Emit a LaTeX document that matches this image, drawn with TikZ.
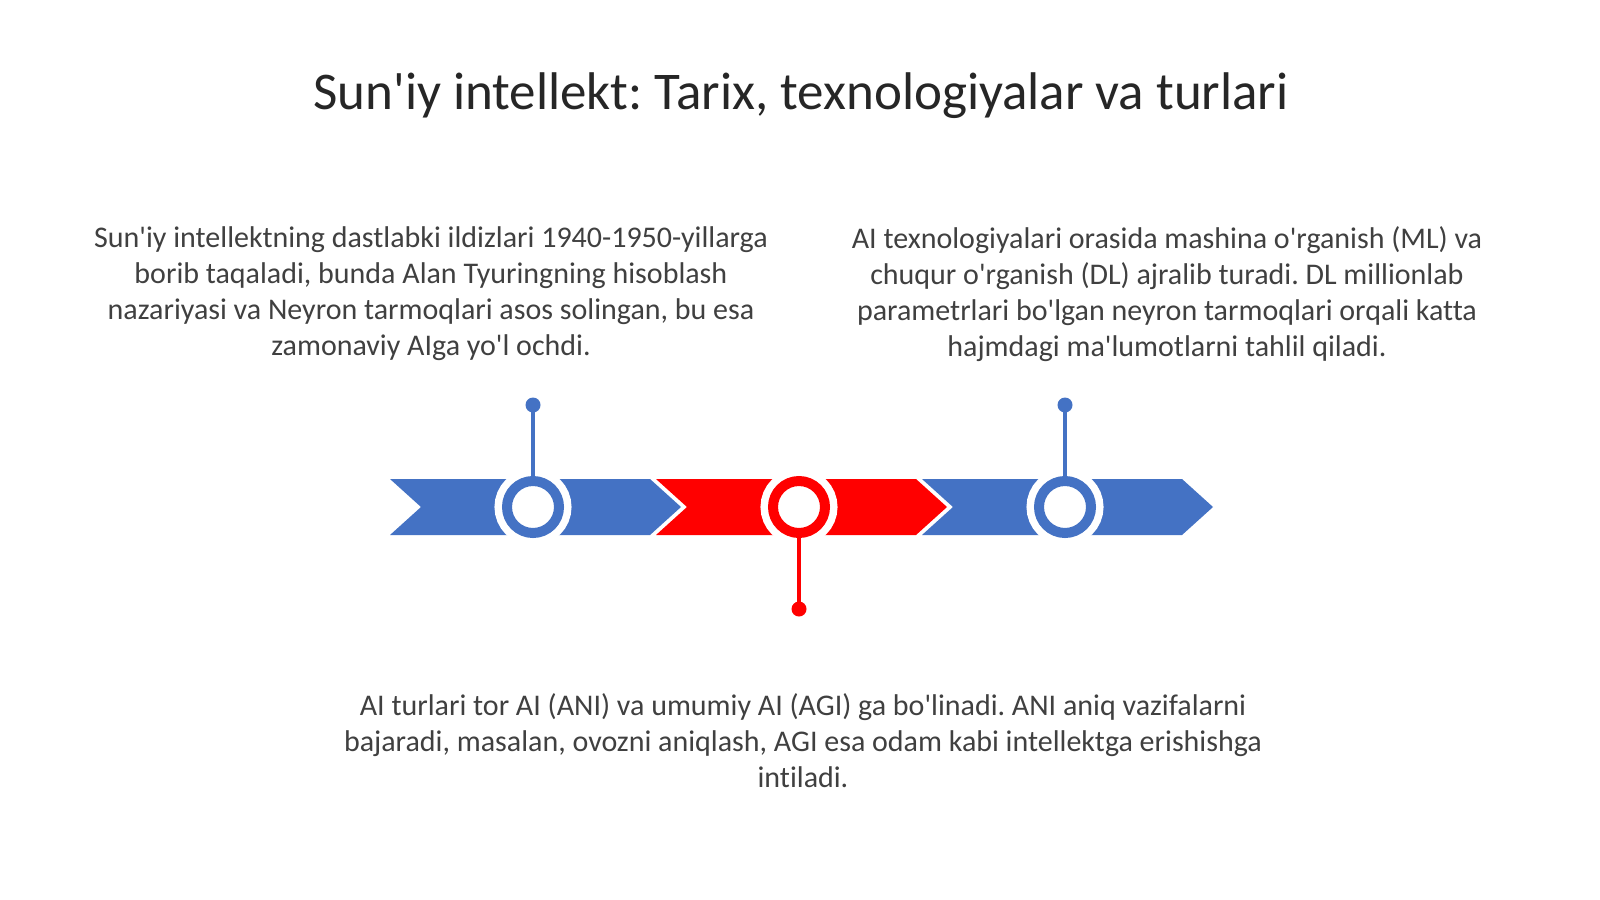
\documentclass[tikz,border=0pt]{standalone}
\usepackage{fontspec}
\setmainfont{Carlito}
\newfontfamily\slidefont{Carlito}[Ligatures=CommonOff]
\definecolor{tlblue}{HTML}{4472C4}
\definecolor{tlred}{HTML}{FF0000}
\definecolor{txtgray}{HTML}{404040}
\definecolor{ttlgray}{HTML}{262626}
\frenchspacing

\begin{document}
\begin{tikzpicture}[x=1pt, y=-1pt, every node/.style={inner sep=0pt},
  ring/.style={circle, draw=white, line width=7.5pt, double distance=10pt, fill=white, minimum size=52pt, outer sep=5pt},
  dot/.style={circle, minimum size=15pt},
  stem/.style={line width=3.5pt},
  body/.style={align=center, text=txtgray, font=\slidefont\fontsize{30}{36}\selectfont}]
\useasboundingbox[fill=white] (0,0) rectangle (1600,899);
\node[text=ttlgray, font=\slidefont\fontsize{53}{60}\selectfont] (title) at (801,96) {Sun'iy intellekt: Tarix, texnologiyalar va turlari};
\node[body] (txtA) at (431,294) {Sun'iy intellektning dastlabki ildizlari 1940-1950-yillarga\\borib taqaladi, bunda Alan Tyuringning hisoblash\\nazariyasi va Neyron tarmoqlari asos solingan, bu esa\\zamonaviy AIga yo'l ochdi.};
\node[body] (txtB) at (1167,294) {AI texnologiyalari orasida mashina o'rganish (ML) va\\chuqur o'rganish (DL) ajralib turadi. DL millionlab\\parametrlari bo'lgan neyron tarmoqlari orqali katta\\hajmdagi ma'lumotlarni tahlil qiladi.};
\node[body] (txtC) at (803,741) {AI turlari tor AI (ANI) va umumiy AI (AGI) ga bo'linadi. ANI aniq vazifalarni\\bajaradi, masalan, ovozni aniqlash, AGI esa odam kabi intellektga erishishga\\intiladi.};
\fill[tlblue] (390,479) -- (650,479) -- (681,507) -- (650,535) -- (390,535) -- (421,507) -- cycle;
\fill[tlred] (656,479) -- (916,479) -- (947,507) -- (916,535) -- (656,535) -- (687,507) -- cycle;
\fill[tlblue] (922,479) -- (1182,479) -- (1213,507) -- (1182,535) -- (922,535) -- (953,507) -- cycle;
\node[ring, double=tlblue] (ring1) at (533,507) {};
\node[ring, double=tlred] (ring2) at (799,507) {};
\node[ring, double=tlblue] (ring3) at (1065,507) {};
\node[dot, fill=tlblue] (dot1) at (533,405) {};
\node[dot, fill=tlred] (dot2) at (799,609) {};
\node[dot, fill=tlblue] (dot3) at (1065,405) {};
\draw[stem, tlblue] (dot1.center) -- (ring1.north);
\draw[stem, tlred] (dot2.center) -- (ring2.south);
\draw[stem, tlblue] (dot3.center) -- (ring3.north);
\end{tikzpicture}
\end{document}
